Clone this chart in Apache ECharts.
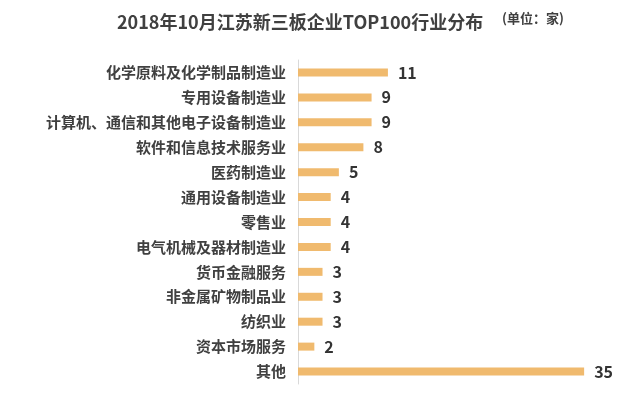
<!DOCTYPE html>
<html><head><meta charset="utf-8">
<script src="https://cdn.jsdelivr.net/npm/echarts@6/dist/echarts.min.js"></script>
<style>html,body{margin:0;padding:0;background:#fff}#c{width:640px;height:399px}</style>
</head><body><div id="c"></div>
<script>
const categories = ["化学原料及化学制品制造业","专用设备制造业","计算机、通信和其他电子设备制造业","软件和信息技术服务业","医药制造业","通用设备制造业","零售业","电气机械及器材制造业","货币金融服务","非金属矿物制品业","纺织业","资本市场服务","其他"];
const values = [11,9,9,8,5,4,4,4,3,3,3,2,35];
const chart = echarts.init(document.getElementById('c'), null, {renderer:'canvas'});
chart.setOption({
  animation:false,
  title:{
    text:'2018年10月江苏新三板企业TOP100行业分布',
    left:112, top:8,
    textStyle:{fontFamily:'"Noto Sans CJK SC", sans-serif', fontSize:18, fontWeight:'bold', color:'#404040'}
  },
  graphic:[{type:'text', left:502, top:12, style:{text:'(单位：家)', font:'bold 13px "Noto Sans CJK SC", sans-serif', fill:'#404040'}}],
  grid:{left:298, top:60, width:327, height:324, containLabel:false},
  xAxis:{type:'value', min:0, max:40, show:false},
  yAxis:{type:'category', data:categories, inverse:true,
    axisLine:{show:true, lineStyle:{color:'#d9d9d9', width:1}},
    axisTick:{show:false},
    axisLabel:{margin:12, fontFamily:'"Noto Sans CJK SC", sans-serif', fontSize:15, fontWeight:'bold', color:'#404040'}
  },
  series:[{type:'bar', data:values, barWidth:8,
    itemStyle:{color:'#F0BA6E'},
    label:{show:true, position:'right', distance:10, fontFamily:'"Noto Sans CJK SC", sans-serif', fontSize:16, fontWeight:'bold', color:'#333'}
  }]
});
</script></body></html>
